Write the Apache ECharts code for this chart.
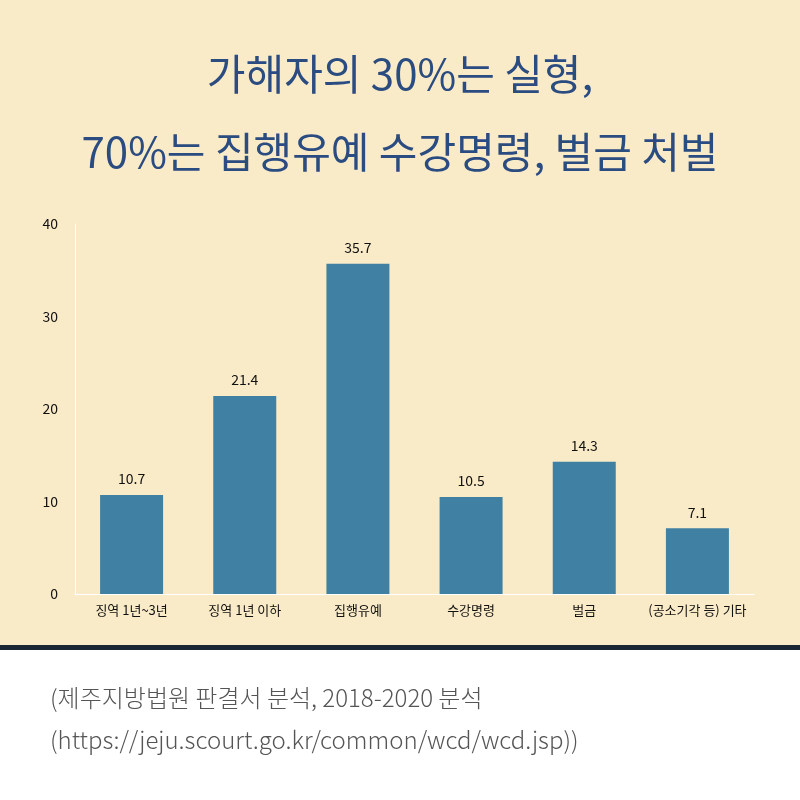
<!DOCTYPE html>
<html><head><meta charset="utf-8">
<script src="https://cdn.jsdelivr.net/npm/echarts@6/dist/echarts.min.js"></script>
<style>html,body{margin:0;padding:0;background:#fff}#c{width:800px;height:800px}</style>
</head><body><div id="c"></div>
<script>
const categories = ['징역 1년~3년','징역 1년 이하','집행유예','수강명령','벌금','(공소기각 등) 기타'];
const values = [10.7, 21.4, 35.7, 10.5, 14.3, 7.1];
const titleLines = ['가해자의 30%는 실형,', '70%는 집행유예 수강명령, 벌금 처벌'];
const sourceLines = ['(제주지방법원 판결서 분석, 2018-2020 분석', '(https://jeju.scourt.go.kr/common/wcd/wcd.jsp))'];
const font = '"Noto Sans CJK KR","Noto Sans",sans-serif';
const chart = echarts.init(document.getElementById('c'));
chart.setOption({
  backgroundColor: '#ffffff',
  graphic: [
    {type:'rect', shape:{x:0,y:0,width:800,height:646}, style:{fill:'#FAEBC8'}, z:-10},
    {type:'rect', shape:{x:0,y:645,width:800,height:5}, style:{fill:'#1B2635'}, z:-10},
    {type:'text', left:'center', top:53, style:{text:titleLines[0], fill:'#2B4C80', font:'400 42px '+font}},
    {type:'text', left:'center', top:131, style:{text:titleLines[1], fill:'#2B4C80', font:'400 42px '+font}},
    {type:'text', left:50, top:686, style:{text:sourceLines[0], fill:'#555', font:'300 24px '+font}},
    {type:'text', left:50, top:728, style:{text:sourceLines[1], fill:'#555', font:'300 24px '+font}}
  ],
  grid: {left:75, right:46, top:224, bottom:206},
  xAxis: {type:'category', data:categories,
    axisLine:{lineStyle:{color:'#ffffff',width:1}}, axisTick:{show:false},
    axisLabel:{color:'#111', fontSize:13, fontFamily:font, margin:10, interval:0}},
  yAxis: {type:'value', min:0, max:40, interval:10,
    axisLine:{show:true, lineStyle:{color:'#ffffff'}}, splitLine:{show:false},
    axisLabel:{color:'#111', fontSize:14, fontFamily:font, margin:17, align:'right'}},
  series: [{type:'bar', data:values, barWidth:63, itemStyle:{color:'#3F80A3'},
    label:{show:true, position:'top', color:'#111', fontSize:14, fontFamily:font, distance:9}}]
});
</script></body></html>
